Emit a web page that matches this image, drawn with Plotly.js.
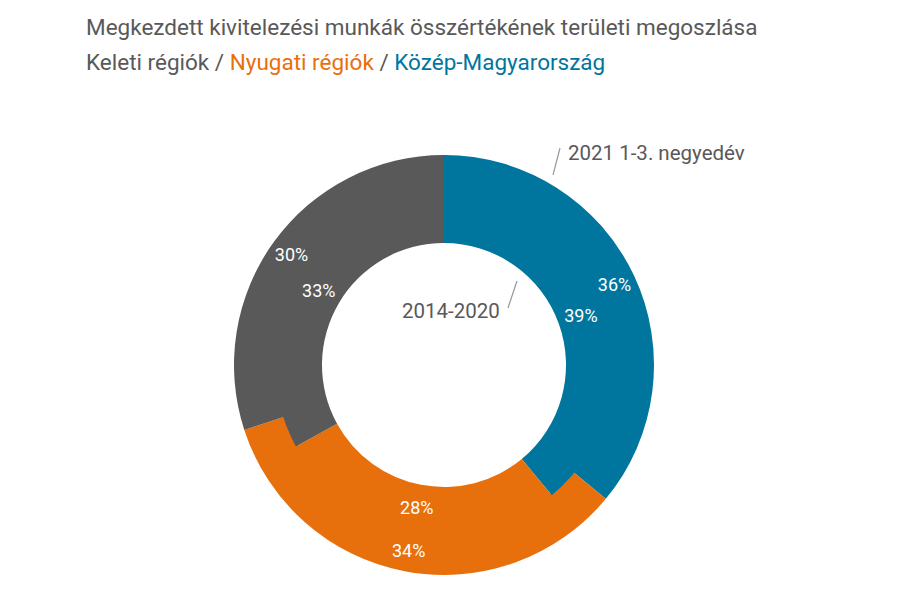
<!DOCTYPE html>
<html>
<head>
<meta charset="utf-8">
<script src="https://cdn.plot.ly/plotly-3.0.1.min.js"></script>
<style>html,body{margin:0;padding:0;background:#fff;}#chart{width:900px;height:600px;}</style>
</head>
<body>
<div id="chart"></div>
<script>
const regions = ["Közép-Magyarország", "Nyugati régiók", "Keleti régiók"];
const colors = ["#00769F", "#E8700C", "#595959"];
const share2021 = [36, 34, 30];
const share20142020 = [39, 28, 33];
const outerLabel = "2021 1-3. negyedév";
const innerLabel = "2014-2020";
const titleLine1 = "Megkezdett kivitelezési munkák összértékének területi megoszlása";

const W = 900, H = 600;
const cx = 444, cy = 365, rOuter = 210, rMid = 168, rHole = 122;
function dom(r) {
  return {x: [(cx - r) / W, (cx + r) / W], y: [1 - (cy + r) / H, 1 - (cy - r) / H]};
}
const px = x => x / W, py = y => 1 - y / H;

const common = {
  type: 'pie', sort: false, direction: 'clockwise', rotation: 0,
  textinfo: 'percent', textposition: 'inside', insidetextorientation: 'horizontal',
  textfont: {family: 'Roboto, sans-serif', size: 18, color: '#ffffff'},
  marker: {colors: colors, line: {width: 0}},
  hoverinfo: 'label+percent', showlegend: false
};

const data = [
  Object.assign({}, common, {labels: regions, values: share2021, name: outerLabel, domain: dom(rOuter), hole: (rMid - 1) / rOuter}),
  Object.assign({}, common, {labels: regions, values: share20142020, name: innerLabel, domain: dom(rMid + 1), hole: rHole / (rMid + 1)})
];

const gray = '#595959';
const titleLine2 =
  '<span style="color:' + gray + '">' + regions[2] + ' / </span>' +
  '<span style="color:' + colors[1] + '">' + regions[1] + '</span>' +
  '<span style="color:' + gray + '"> / </span>' +
  '<span style="color:' + colors[0] + '">' + regions[0] + '</span>';

const layout = {
  width: W, height: H,
  margin: {l: 0, r: 0, t: 0, b: 0},
  paper_bgcolor: '#ffffff', plot_bgcolor: '#ffffff',
  font: {family: 'Roboto, sans-serif', color: gray},
  annotations: [
    {text: titleLine1, x: px(84), y: py(27), xref: 'paper', yref: 'paper', xanchor: 'left', yanchor: 'middle', showarrow: false, font: {size: 22.5, color: gray}},
    {text: titleLine2, x: px(84), y: py(62), xref: 'paper', yref: 'paper', xanchor: 'left', yanchor: 'middle', showarrow: false, font: {size: 22.5, color: gray}},
    {text: outerLabel, x: px(566), y: py(153), xref: 'paper', yref: 'paper', xanchor: 'left', yanchor: 'middle', showarrow: false, font: {size: 20.5, color: gray}},
    {text: innerLabel, x: px(502), y: py(311), xref: 'paper', yref: 'paper', xanchor: 'right', yanchor: 'middle', showarrow: false, font: {size: 20.5, color: gray}}
  ],
  shapes: [
    {type: 'line', xref: 'paper', yref: 'paper', x0: px(553), y0: py(175), x1: px(560), y1: py(148), line: {color: '#999999', width: 1.2}},
    {type: 'line', xref: 'paper', yref: 'paper', x0: px(508), y0: py(308), x1: px(517), y1: py(281), line: {color: '#999999', width: 1.2}}
  ]
};

Plotly.newPlot('chart', data, layout, {displayModeBar: false, staticPlot: true});
</script>
</body>
</html>
